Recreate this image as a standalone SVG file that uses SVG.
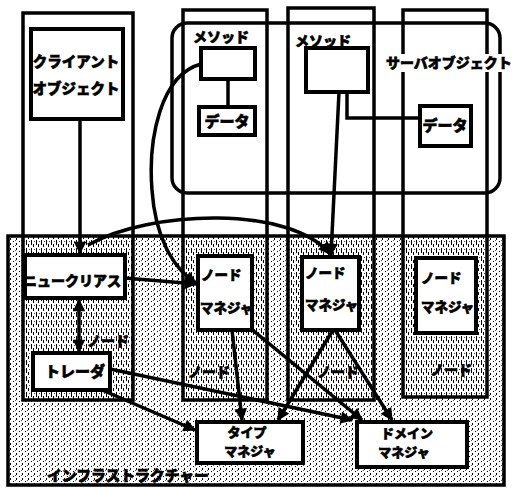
<svg xmlns="http://www.w3.org/2000/svg" width="519" height="488" viewBox="0 0 519 488">
<defs>
<style>
.box{fill:#fff;stroke:#000;stroke-width:4}
.col{fill:none;stroke:#000;stroke-width:3.5}
.t{font-family:"Noto Sans CJK JP","Noto Sans",sans-serif;font-weight:900;font-size:14px;fill:#000;stroke:#000;stroke-width:0.6}
.m{text-anchor:middle}
.c{fill:none;stroke:#000;stroke-width:3.5}
</style>
<pattern id="dots" width="6" height="5" patternUnits="userSpaceOnUse">
<rect width="6" height="5" fill="#fff"/>
<rect x="1" y="1" width="1" height="1" fill="#000"/>
<rect x="4" y="3" width="1" height="2" fill="#000"/>
<rect x="3" y="0" width="1" height="1" fill="#555"/>
</pattern>
<pattern id="streaks" width="5" height="8" patternUnits="userSpaceOnUse">
<rect width="5" height="8" fill="#fff"/>
<rect x="1" y="0" width="1" height="5" fill="#000"/>
<rect x="3" y="4" width="1" height="3" fill="#000"/>
<rect x="4" y="1" width="1" height="1" fill="#444"/>
</pattern>
<marker id="ah" viewBox="0 0 10 10" refX="9" refY="5" markerWidth="4" markerHeight="3.6" orient="auto-start-reverse" markerUnits="strokeWidth">
<path d="M0,0 L10,5 L0,10 z" fill="#000"/>
</marker>
</defs>
<rect width="519" height="488" fill="#fff"/>

<g id="infrastructure">
<rect x="8" y="236" width="496" height="249" fill="url(#dots)"/>
<rect x="23" y="237" width="110" height="163" fill="url(#streaks)"/>
<rect x="183" y="237" width="84" height="163" fill="url(#streaks)"/>
<rect x="288" y="237" width="86" height="163" fill="url(#streaks)"/>
<rect x="403" y="237" width="84" height="160" fill="url(#streaks)"/>
<rect x="8" y="236" width="496" height="249" class="col"/>
<text class="t" x="47" y="481" style="font-size:14.8px">インフラストラクチャー</text>
</g>

<g id="client-node">
<rect x="23" y="13" width="110" height="387" class="col"/>
<text class="t m" x="108" y="346">ノード</text>
</g>
<g id="server-node-1">
<rect x="183" y="10" width="84" height="390" class="col"/>
<text class="t m" x="209" y="377">ノード</text>
</g>
<g id="server-node-2">
<rect x="288" y="8" width="86" height="392" class="col"/>
<text class="t m" x="338" y="377">ノード</text>
</g>
<g id="node-3">
<rect x="403" y="10" width="84" height="387" class="col"/>
<text class="t m" x="451" y="375">ノード</text>
</g>

<g id="server-object">
<rect x="172" y="23" width="328" height="170" rx="15" class="col"/>
<rect x="384" y="54" width="132" height="18" fill="#fff"/>
<text class="t" x="386" y="68">サーバオブジェクト</text>
</g>

<g id="client-object">
<rect x="31" y="29" width="92" height="90" class="box"/>
<text class="t m" x="76" y="67" style="font-size:14.5px">クライアント</text>
<text class="t m" x="76" y="94" style="font-size:14.5px">オブジェクト</text>
</g>

<g id="method-1">
<text class="t m" x="221" y="42">メソッド</text>
<rect x="201" y="48" width="54" height="31" class="box"/>
</g>
<g id="data-1">
<rect x="199" y="107" width="56" height="28" class="box"/>
<text class="t m" x="227" y="127" style="font-size:15px">データ</text>
</g>
<g id="method-2">
<text class="t m" x="323" y="46">メソッド</text>
<rect x="306" y="48" width="62" height="44" class="box"/>
</g>
<g id="data-2">
<rect x="420" y="106" width="51" height="40" class="box"/>
<text class="t m" x="445" y="131" style="font-size:15px">データ</text>
</g>

<g id="nucleus">
<rect x="25" y="255" width="100" height="43" class="box"/>
<text class="t" x="23" y="286">ニュークリアス</text>
</g>
<g id="tracer">
<rect x="33" y="353" width="77" height="37" class="box"/>
<text class="t" x="45" y="377" style="font-size:15px">トレーダ</text>
</g>
<g id="node-manager-1">
<rect x="198" y="256" width="54" height="74" class="box"/>
<text class="t" x="201" y="280" style="font-size:13.5px">ノード</text>
<text class="t" x="200" y="313" style="font-size:13.5px">マネジャ</text>
</g>
<g id="node-manager-2">
<rect x="302" y="257" width="57" height="73" class="box"/>
<text class="t" x="305" y="278" style="font-size:13.5px">ノード</text>
<text class="t" x="305" y="310" style="font-size:13.5px">マネジャ</text>
</g>
<g id="node-manager-3">
<rect x="416" y="258" width="60" height="75" class="box"/>
<text class="t" x="421" y="283" style="font-size:13.5px">ノード</text>
<text class="t" x="421" y="312" style="font-size:13.5px">マネジャ</text>
</g>
<g id="type-manager">
<rect x="197" y="422" width="106" height="41" class="box"/>
<text class="t m" x="247" y="437" style="font-size:13px">タイプ</text>
<text class="t m" x="250" y="456" style="font-size:13px">マネジャ</text>
</g>
<g id="domain-manager">
<rect x="357" y="422" width="110" height="45" class="box"/>
<text class="t m" x="407" y="438" style="font-size:13px">ドメイン</text>
<text class="t m" x="404" y="457" style="font-size:13px">マネジャ</text>
</g>

<g id="connectors">
<line class="c" x1="228" y1="79" x2="228" y2="107"/>
<polyline class="c" points="347,92 347,118 420,118"/>
<line class="c" x1="80" y1="119" x2="80" y2="253" marker-end="url(#ah)"/>
<path class="c" d="M88 245 C150 210 290 205 330 254" marker-end="url(#ah)"/>
<line class="c" x1="125" y1="278" x2="196" y2="284" marker-end="url(#ah)"/>
<path class="c" d="M201 64 C160 75 148 140 152 190 C155 235 172 268 196 283" marker-end="url(#ah)"/>
<line class="c" x1="339" y1="92" x2="331" y2="255" marker-end="url(#ah)"/>
<line class="c" x1="79" y1="300" x2="79" y2="351" marker-start="url(#ah)" marker-end="url(#ah)"/>
<line class="c" x1="102" y1="390" x2="195" y2="430" marker-end="url(#ah)"/>
<line class="c" x1="110" y1="369" x2="352" y2="420" marker-end="url(#ah)"/>
<line class="c" x1="232" y1="330" x2="242" y2="420" marker-end="url(#ah)"/>
<line class="c" x1="250" y1="328" x2="362" y2="420" marker-end="url(#ah)"/>
<line class="c" x1="333" y1="330" x2="278" y2="420" marker-end="url(#ah)"/>
<line class="c" x1="335" y1="330" x2="392" y2="420" marker-end="url(#ah)"/>
</g>
</svg>
